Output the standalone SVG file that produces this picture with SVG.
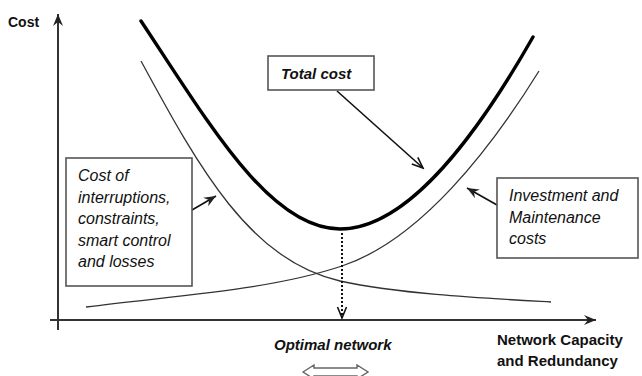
<svg xmlns="http://www.w3.org/2000/svg" width="642" height="376" viewBox="0 0 642 376">
<style>
text{font-family:"Liberation Sans",Arial,sans-serif;fill:#111}
.b{font-weight:bold}
.i{font-style:italic}
.lbl{font-size:16px;font-style:italic}
.box{fill:#fff;stroke:#555;stroke-width:1.6}
.axis{stroke:#333;stroke-width:2;fill:none}
.thin{stroke:#333;stroke-width:1.3;fill:none}
.thick{stroke:#000;stroke-width:3.4;fill:none;stroke-linecap:round}
.ptr{stroke:#111;stroke-width:1.6;fill:none}
</style>
<defs>
<marker id="ah" markerWidth="14" markerHeight="12" refX="12" refY="5" orient="auto" markerUnits="userSpaceOnUse" viewBox="0 0 14 10">
<path d="M0,0 L12,5 L0,10 L4,5 Z" fill="#222"/>
</marker>
<marker id="av" markerWidth="14" markerHeight="12" refX="12" refY="5" orient="auto" markerUnits="userSpaceOnUse" viewBox="0 0 14 10">
<path d="M1,0.5 L12,5 L1,9.5" fill="none" stroke="#111" stroke-width="1.6"/>
</marker>
</defs>
<g id="axes">
<line class="axis" x1="58" y1="330" x2="58" y2="14" marker-end="url(#ah)"/>
<line class="axis" x1="50" y1="320" x2="596" y2="320" marker-end="url(#ah)"/>
<text class="b" x="8" y="27" font-size="14">Cost</text>
</g>
<g id="curves">
<path id="total-curve" class="thick" d="M141,21 C210,125 270,229 340,229 C410,229 480,130 533,37"/>
<path id="interruptions-curve" class="thin" d="M141,61 C200,170 250,260 340,281 C400,294 480,298 551,302"/>
<path id="investment-curve" class="thin" d="M86,307 C180,295 270,290 342,266 C420,240 490,150 539,71"/>
</g>
<g id="connectors">
<line class="ptr" x1="337" y1="91" x2="423" y2="168" marker-end="url(#av)"/>
<line class="ptr" x1="192" y1="210" x2="216" y2="196" marker-end="url(#ah)"/>
<line class="ptr" x1="497" y1="205" x2="467" y2="188" marker-end="url(#ah)"/>
<line x1="342" y1="233" x2="342" y2="318" stroke="#111" stroke-width="2" stroke-dasharray="2,2" marker-end="url(#av)"/>
</g>
<g id="total-cost">
<rect class="box" x="268" y="56" width="106" height="34"/>
<text class="b i" x="281" y="79" font-size="15">Total cost</text>
</g>
<g id="interruptions">
<rect class="box" x="66" y="158" width="126" height="128"/>
<text class="lbl" x="78" y="181">Cost of</text>
<text class="lbl" x="78" y="203">interruptions,</text>
<text class="lbl" x="78" y="224">constraints,</text>
<text class="lbl" x="78" y="246">smart control</text>
<text class="lbl" x="78" y="267">and losses</text>
</g>
<g id="investment">
<rect class="box" x="497" y="178" width="141" height="80"/>
<text class="lbl" x="509" y="201">Investment and</text>
<text class="lbl" x="509" y="223">Maintenance</text>
<text class="lbl" x="509" y="244">costs</text>
</g>
<g id="optimal">
<text class="b i" x="274" y="350" font-size="15">Optimal network</text>
<polygon points="303,372 314,365 314,368 357,368 357,365 368,372 357,379 357,376 314,376 314,379" fill="#fff" stroke="#666" stroke-width="1.4"/>
</g>
<g id="x-label">
<text class="b" x="497" y="345" font-size="15">Network Capacity</text>
<text class="b" x="497" y="366" font-size="15">and Redundancy</text>
</g>
</svg>
